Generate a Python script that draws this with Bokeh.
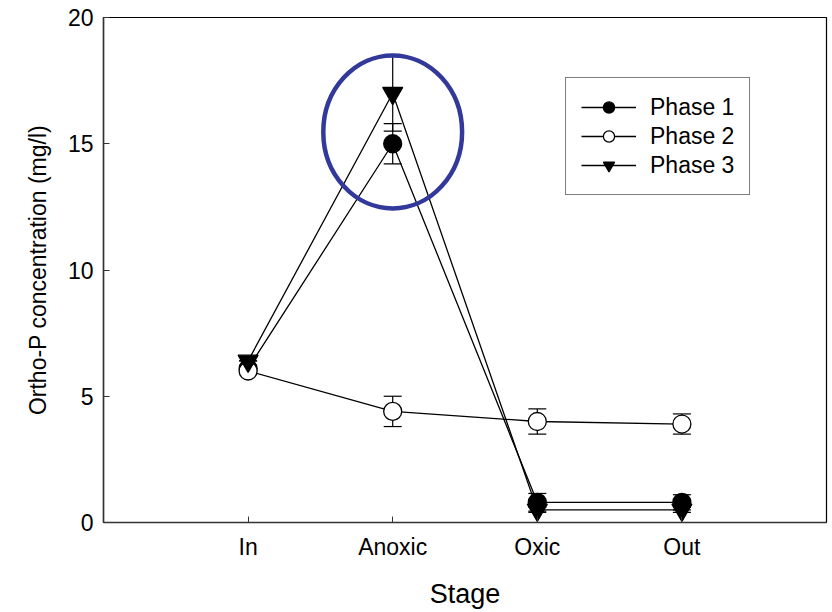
from bokeh.plotting import figure
from bokeh.models import Whisker, TeeHead, ColumnDataSource, Legend, LegendItem, FixedTicker
from bokeh.embed import file_html
from bokeh.resources import INLINE

stages = ["In", "Anoxic", "Oxic", "Out"]
stage_pos = [1, 2, 3, 4]

phase1 = [6.1, 15.0, 0.8, 0.8]
phase1_err = [0.0, 0.8, 0.35, 0.3]
phase2 = [6.0, 4.4, 4.0, 3.9]
phase2_err = [0.0, 0.6, 0.5, 0.4]
phase3 = [6.4, 17.0, 0.5, 0.5]
phase3_err = [0.0, 1.5, 0.1, 0.1]

y_ticks = [0, 5, 10, 15, 20]

# highlight ellipse (data units)
ell_x, ell_y, ell_w, ell_h = 2.0, 15.47, 0.96, 6.06

FONT = "Liberation Sans"

p = figure(frame_width=723, frame_height=505, x_range=(0, 5), y_range=(0, 20),
           output_backend="svg", toolbar_location=None,
           min_border_left=103, min_border_top=17, min_border_right=4, min_border_bottom=88)
p.grid.visible = False
p.outline_line_color = "black"
p.outline_line_width = 1.2
p.background_fill_color = "white"
p.border_fill_color = "white"

for ax in (p.xaxis[0], p.yaxis[0]):
    ax.major_tick_in = 6
    ax.major_tick_out = 0
    ax.minor_tick_line_color = None
    ax.axis_line_color = "#333333"
    ax.axis_line_width = 1.5
    ax.major_tick_line_color = "#333333"
    ax.major_label_text_font = FONT
    ax.major_label_text_font_size = "23px"
    ax.major_label_text_color = "black"
    ax.axis_label_text_font = FONT
    ax.axis_label_text_font_style = "normal"
    ax.axis_label_text_color = "black"

p.xaxis.ticker = FixedTicker(ticks=stage_pos)
p.xaxis.major_label_overrides = {pos: s for pos, s in zip(stage_pos, stages)}
p.xaxis.axis_label = "Stage"
p.xaxis.axis_label_text_font_size = "27px"
p.xaxis.major_label_standoff = 11
p.xaxis.axis_label_standoff = 16

p.yaxis.ticker = FixedTicker(ticks=y_ticks)
p.yaxis.axis_label = "Ortho-P concentration (mg/l)"
p.yaxis.axis_label_text_font_size = "23px"
p.yaxis.major_label_standoff = 10
p.yaxis.axis_label_standoff = 14

items = []
series = [
    ("Phase 1", phase1, phase1_err, "circle", "black", 18),
    ("Phase 2", phase2, phase2_err, "circle", "white", 18),
    ("Phase 3", phase3, phase3_err, "inverted_triangle", "black", 20),
]
for name, vals, errs, marker, fill, size in series:
    src = ColumnDataSource(dict(x=stage_pos, y=vals,
                                lo=[v - e for v, e in zip(vals, errs)],
                                hi=[v + e for v, e in zip(vals, errs)]))
    w = Whisker(source=src, base="x", upper="hi", lower="lo", line_color="black", line_width=1.2,
                upper_head=TeeHead(size=18, line_color="black", line_width=1.2),
                lower_head=TeeHead(size=18, line_color="black", line_width=1.2))
    p.add_layout(w)
    ln = p.line("x", "y", source=src, line_color="black", line_width=1.3)
    sc = p.scatter("x", "y", source=src, marker=marker, size=size, fill_color=fill,
                   line_color="black", line_width=1.3)
    items.append(LegendItem(label=name, renderers=[ln, sc]))

p.ellipse(x=ell_x, y=ell_y, width=ell_w, height=ell_h, fill_color=None,
          line_color="#33399A", line_width=4.5)

legend = Legend(items=items, location=(462, 327), border_line_color="black",
                border_line_width=1.2, label_text_font=FONT, label_text_font_size="23px",
                label_text_color="black",
                glyph_width=55, glyph_height=28, label_height=28, spacing=1,
                padding=15, label_standoff=14, margin=0, background_fill_alpha=1)
p.add_layout(legend)

open("out.html", "w").write(file_html(p, INLINE))
